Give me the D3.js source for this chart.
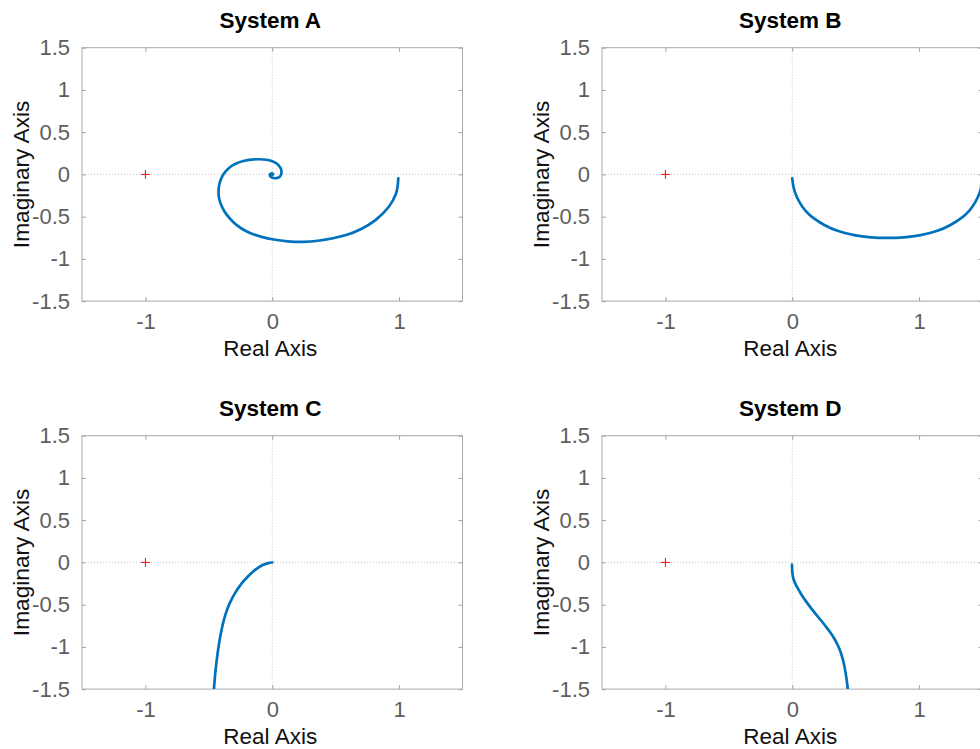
<!DOCTYPE html>
<html>
<head>
<meta charset="utf-8">
<script src="https://cdn.jsdelivr.net/npm/d3@7"></script>
<style>
  html, body { margin: 0; padding: 0; background: #fff; }
  svg { display: block; font-family: "Liberation Sans", Arial, Helvetica, sans-serif; }
</style>
</head>
<body>
<svg id="chart" width="980" height="749"></svg>
<script>
// ---- data ----
const titles = ["System A", "System B", "System C", "System D"];
const xTickValues = [-1, 0, 1];
const yTickValues = [-1.5, -1, -0.5, 0, 0.5, 1, 1.5];
const xDomain = [-1.5, 1.5];
const yDomain = [-1.5, 1.5];
const criticalPoint = [-1, 0];

const sysA_re = [0.994, 0.990, 0.981, 0.928, 0.823, 0.692, 0.590, 0.481, 0.360, 0.245, 0.120, 0.008, -0.085, -0.172, -0.248, -0.310, -0.362, -0.399, -0.420, -0.426, -0.419, -0.399, -0.370, -0.334, -0.285, -0.229, -0.165, -0.097, -0.045, -0.005, 0.032, 0.055, 0.070, 0.074, 0.071, 0.061, 0.043, 0.021, 0.002, -0.013, -0.020, -0.018, -0.008, 0.003, 0.008, 0.004, 0.0];
const sysA_im = [-0.047, -0.130, -0.225, -0.384, -0.541, -0.660, -0.718, -0.758, -0.788, -0.802, -0.795, -0.772, -0.741, -0.700, -0.640, -0.565, -0.478, -0.384, -0.295, -0.206, -0.115, -0.028, 0.033, 0.090, 0.132, 0.161, 0.178, 0.181, 0.175, 0.161, 0.135, 0.102, 0.066, 0.031, 0.000, -0.028, -0.043, -0.047, -0.042, -0.028, -0.012, 0.004, 0.012, 0.012, 0.004, -0.003, 0.0];

const sysB_re = [1.500, 1.494, 1.478, 1.445, 1.400, 1.335, 1.250, 1.150, 1.010, 0.880, 0.750, 0.620, 0.490, 0.350, 0.250, 0.165, 0.100, 0.055, 0.022, 0.006, 0.000];
const sysB_im = [-0.047, -0.130, -0.225, -0.330, -0.430, -0.520, -0.600, -0.670, -0.725, -0.748, -0.755, -0.748, -0.725, -0.670, -0.600, -0.520, -0.430, -0.330, -0.225, -0.130, -0.047];

const sysC_re = [0.0, -0.030, -0.071, -0.110, -0.150, -0.190, -0.229, -0.263, -0.294, -0.322, -0.347, -0.366, -0.381, -0.397, -0.410, -0.423, -0.434, -0.444, -0.452, -0.460];
const sysC_im = [0.0, -0.006, -0.027, -0.060, -0.106, -0.162, -0.225, -0.292, -0.362, -0.440, -0.521, -0.600, -0.678, -0.775, -0.876, -0.990, -1.112, -1.230, -1.349, -1.500];

const sysD_re = [-0.002, -0.001, 0.003, 0.018, 0.042, 0.072, 0.108, 0.148, 0.189, 0.228, 0.264, 0.300, 0.330, 0.360, 0.385, 0.403, 0.417, 0.429, 0.438];
const sysD_im = [-0.027, -0.095, -0.166, -0.237, -0.303, -0.382, -0.462, -0.541, -0.619, -0.688, -0.757, -0.826, -0.895, -0.980, -1.072, -1.170, -1.270, -1.385, -1.500];

const seriesRe = [sysA_re, sysB_re, sysC_re, sysD_re];
const seriesIm = [sysA_im, sysB_im, sysC_im, sysD_im];

// ---- layout ----
const lefts = [82, 602];
const tops = [47.7, 435.7];
const W = 380.5, H = 253.4;
const svg = d3.select("#chart");
const fmt = v => String(v).replace("\u2212", "-");

titles.forEach((title, i) => {
  const col = i % 2, row = Math.floor(i / 2);
  const g = svg.append("g").attr("transform", `translate(${lefts[col]},${tops[row]})`);
  const x = d3.scaleLinear().domain(xDomain).range([0, W]);
  const y = d3.scaleLinear().domain(yDomain).range([H, 0]);

  const clipId = "clip" + i;
  g.append("clipPath").attr("id", clipId).append("rect").attr("width", W).attr("height", H);

  // dotted zero lines
  g.append("line").attr("x1", 0).attr("x2", W).attr("y1", y(0)).attr("y2", y(0))
    .attr("stroke", "#b8b8b8").attr("stroke-width", 0.8).attr("stroke-dasharray", "1,2");
  g.append("line").attr("x1", x(0)).attr("x2", x(0)).attr("y1", 0).attr("y2", H)
    .attr("stroke", "#b8b8b8").attr("stroke-width", 0.8).attr("stroke-dasharray", "1,2");

  // axes (ticks inward)
  const axStyle = sel => {
    sel.select(".domain").remove();
    sel.selectAll(".tick line").attr("stroke", "#a0a0a0");
    sel.selectAll(".tick text").attr("fill", "#5e5e5e").style("font-size", "22px");
  };
  g.append("g").attr("transform", `translate(0,${H})`)
    .call(d3.axisBottom(x).tickValues(xTickValues).tickSize(-4).tickPadding(12).tickFormat(fmt))
    .call(axStyle)
    .selectAll(".tick text").attr("dy", "0.71em");
  g.append("g")
    .call(d3.axisTop(x).tickValues(xTickValues).tickSize(-4).tickFormat(""))
    .call(axStyle);
  g.append("g")
    .call(d3.axisLeft(y).tickValues(yTickValues).tickSize(-4).tickPadding(12).tickFormat(fmt))
    .call(axStyle);
  g.append("g").attr("transform", `translate(${W},0)`)
    .call(d3.axisRight(y).tickValues(yTickValues).tickSize(-4).tickFormat(""))
    .call(axStyle);
  g.selectAll(".tick text").attr("font-family", null);

  // box
  g.append("rect").attr("width", W).attr("height", H)
    .attr("fill", "none").attr("stroke", "#a8a8a8").attr("stroke-width", 1);

  // critical point marker (+)
  const cx = x(criticalPoint[0]), cy = y(criticalPoint[1]);
  g.append("path").attr("d", `M${cx - 4.5},${cy}H${cx + 4.5}M${cx},${cy - 4.5}V${cy + 4.5}`)
    .attr("stroke", "#ff0000").attr("stroke-width", 1).attr("fill", "none");

  // curve
  const pts = seriesRe[i].map((re, k) => [re, seriesIm[i][k]]);
  const line = d3.line().x(d => x(d[0])).y(d => y(d[1])).curve(d3.curveBasis);
  g.append("path").attr("clip-path", `url(#${clipId})`)
    .attr("d", line(pts)).attr("fill", "none")
    .attr("stroke", "#0072BD").attr("stroke-width", 2.7)
    .attr("stroke-linejoin", "round").attr("stroke-linecap", "round");

  // title
  g.append("text").attr("x", W / 2 - 2).attr("y", -19.5).attr("text-anchor", "middle")
    .style("font-size", "22.5px").style("font-weight", "bold").attr("fill", "#000").text(title);
  // x label
  g.append("text").attr("x", W / 2 - 2).attr("y", H + 54.5).attr("text-anchor", "middle")
    .style("font-size", "22.5px").attr("fill", "#111").text("Real Axis");
  // y label
  g.append("text").attr("transform", `translate(-53,${H / 2}) rotate(-90)`).attr("text-anchor", "middle")
    .style("font-size", "22.7px").attr("fill", "#111").text("Imaginary Axis");
});
</script>
</body>
</html>
